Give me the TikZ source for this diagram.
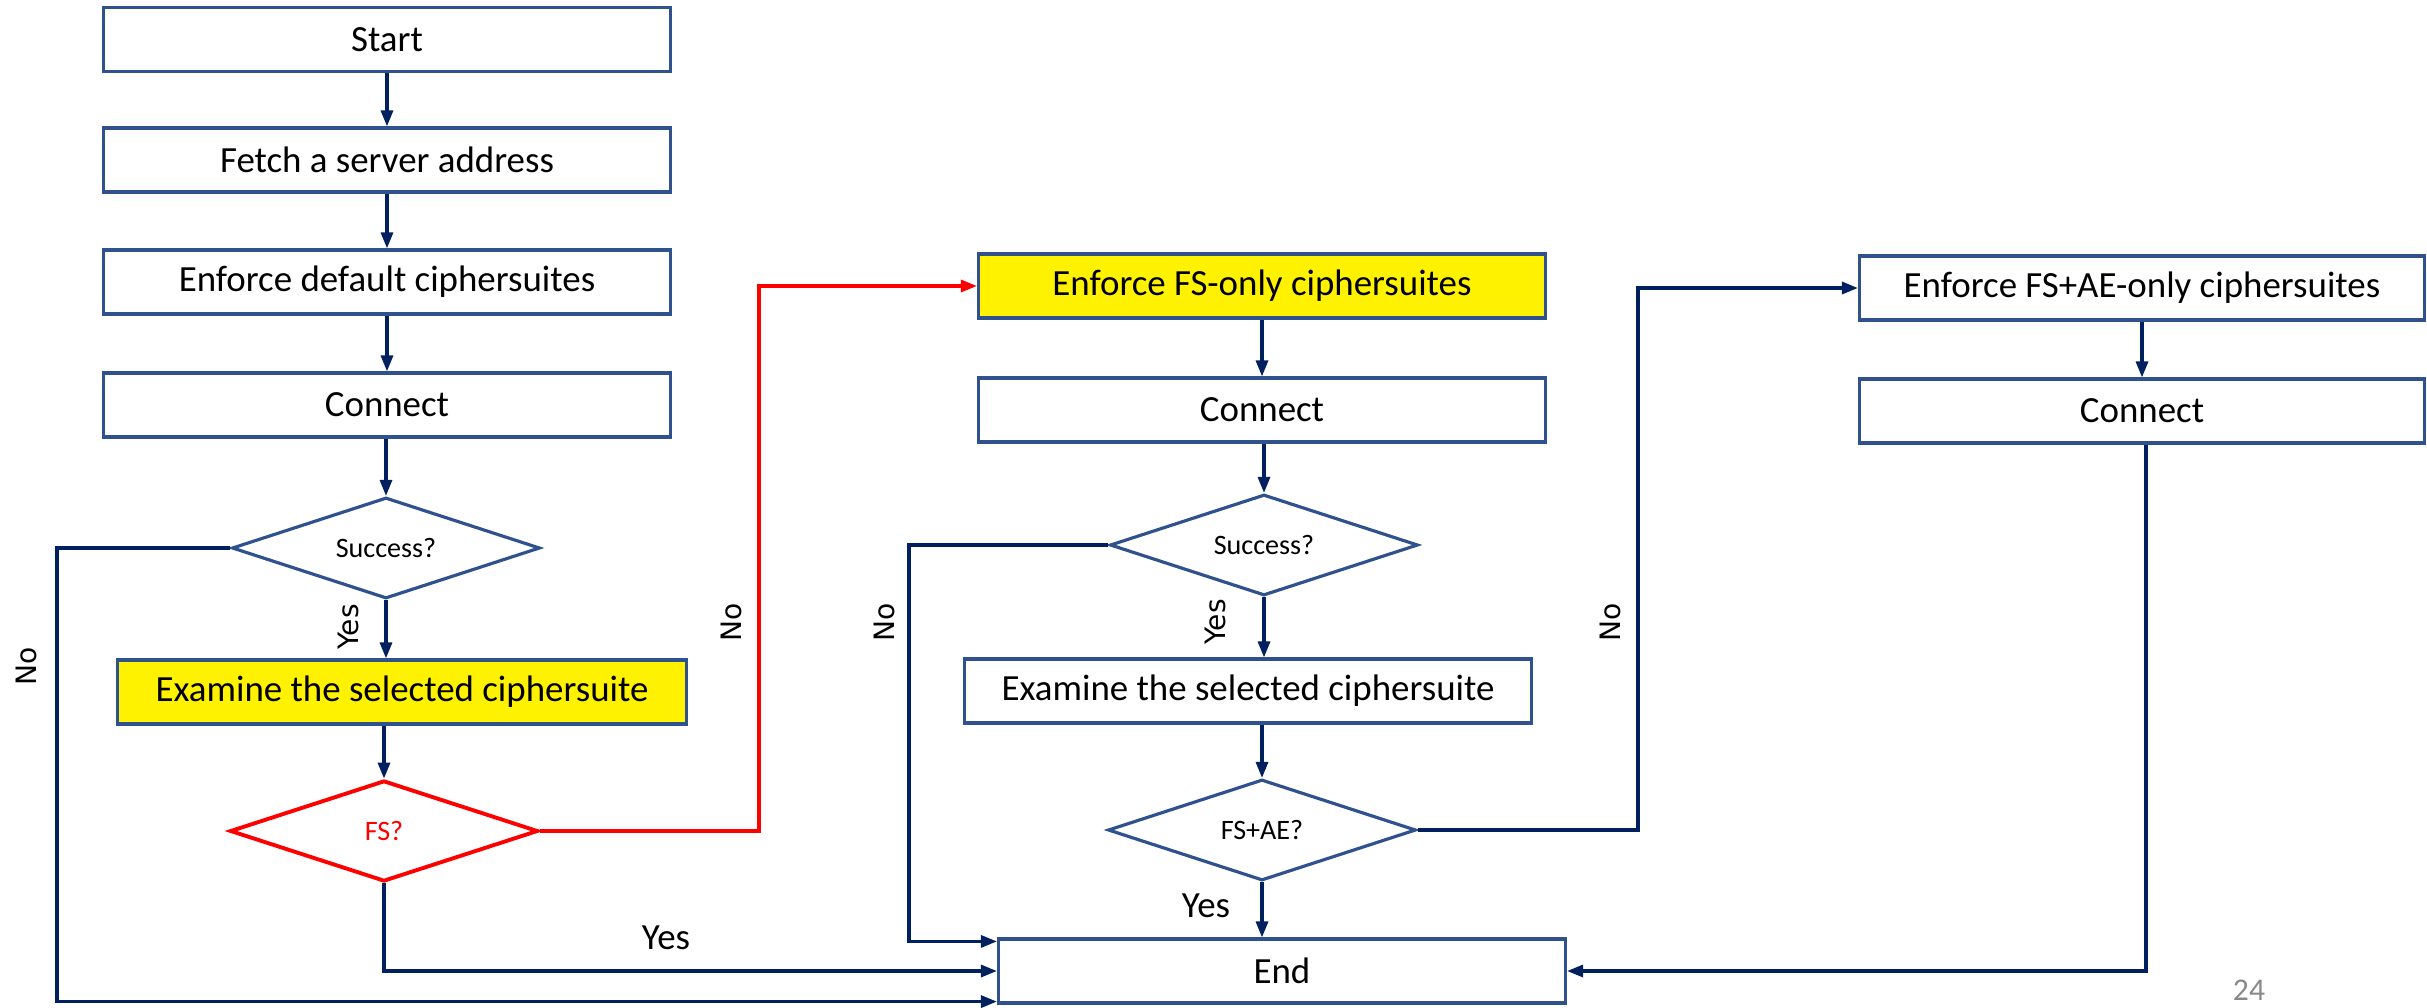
\documentclass[tikz,border=0pt]{standalone}
\usepackage{fontspec}
\setmainfont{Carlito}
\newfontfamily\sidefont{DejaVu Sans}
\usetikzlibrary{arrows.meta,shapes.geometric}
\definecolor{boxblue}{RGB}{47,82,143}
\definecolor{navy}{RGB}{0,32,96}
\definecolor{pagegray}{RGB}{137,137,137}
\begin{document}
\begin{tikzpicture}
[>={Triangle[length=1.6mm,width=1.2mm]},line width=0.9pt,
  box node/.style={rectangle,draw=boxblue,fill=white,minimum width=5.67cm,minimum height=0.64cm,inner sep=0pt,font=\fontsize{10.5}{12}\selectfont},
  hl node/.style={box node,fill=yellow},
  test node/.style={diamond,draw=boxblue,fill=white,aspect=3.05,minimum width=3.08cm,minimum height=1.01cm,inner sep=0pt,font=\fontsize{8}{9}\selectfont},
  flow/.style={->,draw=navy},
  redflow/.style={->,draw=red},
  side label/.style={rotate=90,font=\sidefont\fontsize{8}{9}\selectfont},
  yes label/.style={font=\fontsize{10.5}{12}\selectfont}]
  \useasboundingbox (0,0) rectangle (24.27,-10.07);
  % first try: default ciphersuites
  \node[box node] (start) at (3.87,-0.395) {Start};
  \node[box node] (fetch) at (3.87,-1.60) {Fetch a server address};
  \node[box node] (dflt) at (3.87,-2.82) {Enforce default ciphersuites};
  \node[box node] (conn1) at (3.87,-4.05) {Connect};
  \node[test node] (succ1) at (3.86,-5.48) {Success?};
  \node[hl node,minimum width=5.69cm] (exam1) at (4.02,-6.92) {Examine the selected ciphersuite};
  \node[test node,draw=red,text=red,line width=1.1pt] (fs) at (3.84,-8.31) {FS?};
  % second try: FS-only
  \node[hl node] (fsonly) at (12.62,-2.86) {Enforce FS-only ciphersuites};
  \node[box node] (conn2) at (12.62,-4.10) {Connect};
  \node[test node] (succ2) at (12.64,-5.45) {Success?};
  \node[box node] (exam2) at (12.48,-6.91) {Examine the selected ciphersuite};
  \node[test node] (fsae) at (12.62,-8.30) {FS+AE?};
  % third try: FS+AE-only
  \node[box node,minimum width=5.65cm] (aeonly) at (21.42,-2.88) {Enforce FS+AE-only ciphersuites};
  \node[box node,minimum width=5.65cm] (conn3) at (21.42,-4.11) {Connect};
  \node[box node] (endn) at (12.82,-9.71) {End};
  \node[text=pagegray,font=\fontsize{9}{10}\selectfont] (pnum) at (22.49,-9.90) {24};
  % turning points
  \coordinate (lturn) at (0.57,0);
  \coordinate (rturn) at (7.59,0);
  \coordinate (mturn) at (9.09,0);
  \coordinate (aturn) at (16.38,0);
  \coordinate (etop) at ([yshift=-0.04cm]endn.north west);
  \coordinate (ebot) at ([yshift=0.03cm]endn.south west);
  % connectors
  \draw[flow] (start) -- (fetch);
  \draw[flow] (fetch) -- (dflt);
  \draw[flow] (dflt) -- (conn1);
  \draw[flow] (conn1.south -| succ1) -- (succ1);
  \draw[flow] (succ1) -- (succ1 |- exam1.north);
  \draw[flow] (exam1.south -| fs) -- (fs);
  \draw[flow] (succ1.west) -| (lturn |- ebot) -- (ebot);
  \draw[flow] (fs.south) |- (endn.west);
  \draw[redflow] (fs.east) -| (rturn |- fsonly) -- (fsonly.west);
  \draw[flow] (fsonly) -- (conn2);
  \draw[flow] (conn2.south -| succ2) -- (succ2);
  \draw[flow] (succ2) -- (succ2 |- exam2.north);
  \draw[flow] (exam2.south -| fsae) -- (fsae);
  \draw[flow] (fsae) -- (fsae |- endn.north);
  \draw[flow] (succ2.west) -| (mturn |- etop) -- (etop);
  \draw[flow] (fsae.east) -| (aturn |- aeonly) -- (aeonly.west);
  \draw[flow] (aeonly.south -| conn3) -- (conn3);
  \draw[flow] ([xshift=0.04cm]conn3.south) |- (endn.east);
  % labels
  \node[side label] (no1) at (0.26,-6.66) {No};
  \node[side label] (yes1) at (3.48,-6.27) {Yes};
  \node[side label] (no2) at (7.31,-6.22) {No};
  \node[side label] (no3) at (8.84,-6.22) {No};
  \node[side label] (yes2) at (12.15,-6.22) {Yes};
  \node[side label] (no4) at (16.10,-6.22) {No};
  \node[yes label] (yes3) at (6.66,-9.38) {Yes};
  \node[yes label] (yes4) at (12.06,-9.06) {Yes};
\end{tikzpicture}
\end{document}
